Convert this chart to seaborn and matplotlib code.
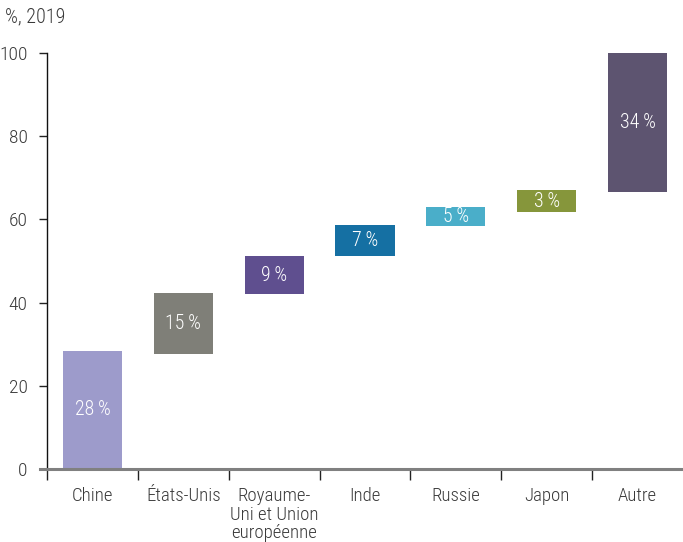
import matplotlib
matplotlib.use("Agg")
import matplotlib.pyplot as plt
from matplotlib import font_manager
import seaborn as sns
import numpy as np
import pandas as pd

categories = ["Chine", "États-Unis", "Royaume-\nUni et Union\neuropéenne", "Inde", "Russie", "Japon", "Autre"]
starts = [0, 27.6, 42.1, 51.1, 58.4, 61.7, 66.6]
ends = [28.4, 42.3, 51.1, 58.6, 62.9, 67.0, 100.0]
labels = ["28", "15", "9", "7", "5", "3", "34"]
colors = ["#9d9bcb", "#7f7f78", "#5f4f8f", "#1570a3", "#4aaec9", "#86963b", "#5d5470"]
yticks = [0, 20, 40, 60, 80, 100]

sns.set_theme(style="white")

# pick a narrow font if one is installed
narrow = None
stretch = "normal"
names = sorted({f.name for f in font_manager.fontManager.ttflist})
for cand in ["Liberation Sans Narrow", "DejaVu Sans Condensed", "Roboto Condensed",
             "Open Sans Condensed", "Noto Sans Condensed"]:
    if cand in names:
        narrow = cand
        break
if narrow is None:
    for f in font_manager.fontManager.ttflist:
        if f.name == "DejaVu Sans" and f.stretch == "condensed":
            narrow = "DejaVu Sans"
            stretch = "condensed"
            break
if narrow is None:
    narrow = "Roboto"
plt.rcParams['font.family'] = [narrow, 'DejaVu Sans']
plt.rcParams['font.stretch'] = stretch
plt.rcParams['font.weight'] = 'light'
FS = 12.5 if narrow != "Roboto" else 11.5
TXT = "#3a3a3a"

heights = [e - s for s, e in zip(starts, ends)]
df = pd.DataFrame({"cat": categories, "h": heights})

fig = plt.figure(figsize=(6.83, 5.42), dpi=100)
ax = fig.add_axes([0.0688, 0.1347, 0.9312, 0.7673])
sns.barplot(data=df, x="cat", y="h", bottom=starts, errorbar=None, width=0.65,
            ax=ax, linewidth=0, color=colors[0], saturation=1)
for p, c in zip(ax.patches, colors):
    p.set_facecolor(c)
    p.set_edgecolor("none")

for i, (s, e, l) in enumerate(zip(starts, ends, labels)):
    ax.text(i, (s + e) / 2, l + "\u2009%", ha="center", va="center", color="white",
            fontsize=FS + 1.8, fontstretch=stretch, fontweight="light")

ax.set_xlim(-0.5, 6.5)
ax.set_ylim(0, 100)
ax.set_yticks(yticks)
ax.set_yticklabels([str(v) for v in yticks])
ax.set_xlabel("")
ax.set_ylabel("")
ax.tick_params(axis="y", which="major", direction="out", length=6, width=1, color="#222222",
               labelsize=FS + 1.5, labelcolor=TXT, pad=8, left=True)
ax.tick_params(axis="x", which="major", length=0, labelsize=FS + 1, labelcolor=TXT, pad=13)
ax.set_xticks(np.arange(-0.5, 6.0, 1.0), minor=True)
ax.tick_params(axis="x", which="minor", direction="out", length=8, width=1, color="#222222", bottom=True)
for lbl in ax.get_xticklabels():
    lbl.set_linespacing(1.05)
    lbl.set_va("top")
    lbl.set_fontstretch(stretch)
    lbl.set_fontweight("light")
for lbl in ax.get_yticklabels():
    lbl.set_fontstretch(stretch)
    lbl.set_fontweight("light")

for side in ["top", "right"]:
    ax.spines[side].set_visible(False)
ax.spines["left"].set_color("#111111")
ax.spines["left"].set_linewidth(1.0)
ax.spines["bottom"].set_color("#808080")
ax.spines["bottom"].set_linewidth(2.2)
ax.spines["bottom"].set_bounds(-0.58, 6.5)
ax.spines["bottom"].set_zorder(5)

fig.text(0.007, 0.968, "%, 2019", ha="left", va="center", fontsize=FS + 2, color=TXT,
         fontstretch=stretch, fontweight="light")

fig.savefig("out.png", dpi=100)
